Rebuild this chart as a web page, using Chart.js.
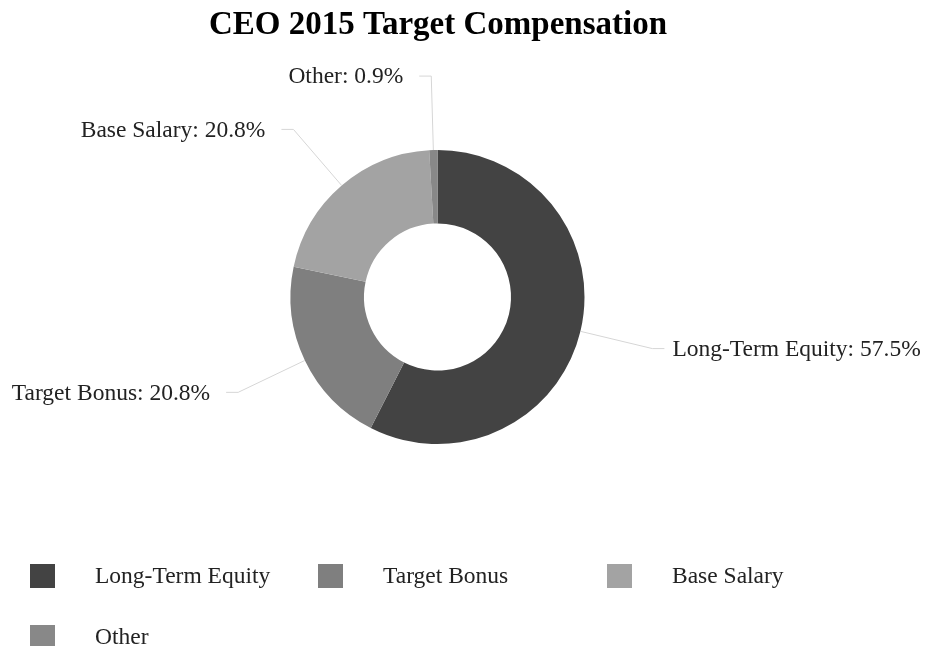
<!DOCTYPE html>
<html>
<head>
<meta charset="utf-8">
<script src="https://cdn.jsdelivr.net/npm/chart.js@4/dist/chart.umd.min.js"></script>
<style>
html,body{margin:0;padding:0;background:#fff;}
#c{display:block;}
</style>
</head>
<body>
<canvas id="c" width="928" height="646"></canvas>
<script>
const titleText = 'CEO 2015 Target Compensation';
const categories = ['Long-Term Equity', 'Target Bonus', 'Base Salary', 'Other'];
const values = [57.5, 20.8, 20.8, 0.9];
const colors = ['#434343', '#7f7f7f', '#a3a3a3', '#888888'];

const FONT = '"Liberation Serif", "Times New Roman", serif';

const overlay = {
  id: 'overlay',
  afterDraw(chart) {
    const ctx = chart.ctx;
    const meta = chart.getDatasetMeta(0);
    const total = values.reduce((a, b) => a + b, 0);
    ctx.save();
    // title
    ctx.fillStyle = '#000';
    ctx.font = 'bold 33px ' + FONT;
    ctx.textAlign = 'center';
    ctx.textBaseline = 'middle';
    ctx.fillText(titleText, 438, 25);

    // outside labels with leader lines
    ctx.font = '23.5px ' + FONT;
    meta.data.forEach((arc, i) => {
      const p = arc.getProps(['x', 'y', 'startAngle', 'endAngle', 'outerRadius'], true);
      const mid = (p.startAngle + p.endAngle) / 2;
      const cos = Math.cos(mid), sin = Math.sin(mid);
      const r1 = p.outerRadius, r2 = p.outerRadius + 74;
      const x1 = p.x + cos * r1, y1 = p.y + sin * r1;
      const x2 = p.x + cos * r2, y2 = p.y + sin * r2;
      const right = cos >= 0;
      const x3 = x2 + (right ? 12 : -12);
      ctx.strokeStyle = '#d6d6d6';
      ctx.lineWidth = 1;
      ctx.beginPath();
      ctx.moveTo(x1, y1);
      ctx.lineTo(x2, y2);
      ctx.lineTo(x3, y2);
      ctx.stroke();
      const pct = (values[i] / total * 100).toFixed(1) + '%';
      ctx.fillStyle = '#222';
      ctx.textBaseline = 'middle';
      ctx.textAlign = right ? 'left' : 'right';
      ctx.fillText(categories[i] + ': ' + pct, x3 + (right ? 8 : -16), y2 + 1);
    });

    // legend
    const colX = [30, 318, 607];
    const rowY = [576, 637];
    ctx.textAlign = 'left';
    ctx.textBaseline = 'middle';
    categories.forEach((c, i) => {
      const col = i % 3, row = Math.floor(i / 3);
      const x = colX[col], y = rowY[row];
      ctx.fillStyle = colors[i];
      ctx.fillRect(x, y - 12, 25, 24);
      ctx.fillStyle = '#222';
      ctx.fillText(c, x + 65, y + 1);
    });
    ctx.restore();
  }
};

new Chart(document.getElementById('c'), {
  type: 'doughnut',
  data: {
    labels: categories,
    datasets: [{
      data: values,
      backgroundColor: colors,
      borderWidth: 0,
      hoverOffset: 0
    }]
  },
  options: {
    responsive: false,
    animation: false,
    devicePixelRatio: 1,
    cutout: '50%',
    layout: { padding: { top: 150, bottom: 202, left: 0, right: 53 } },
    plugins: {
      legend: { display: false },
      title: { display: false },
      tooltip: { enabled: false }
    }
  },
  plugins: [overlay]
});
</script>
</body>
</html>
